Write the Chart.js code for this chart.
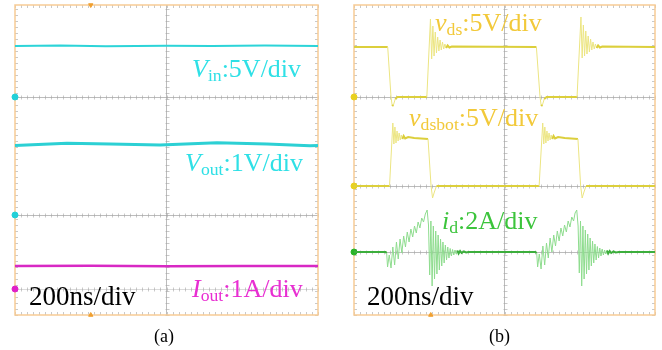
<!DOCTYPE html>
<html>
<head>
<meta charset="utf-8">
<script src="https://cdn.jsdelivr.net/npm/chart.js@4/dist/chart.umd.min.js"></script>
<style>
  body { margin: 0; background: #fff; width: 662px; height: 350px; position: relative; overflow: hidden;
         font-family: "Liberation Serif", "Times New Roman", serif; }
  canvas { position: absolute; top: 0; }
  #ca { left: 0; }
  #cb { left: 331px; }
  .lbl { position: absolute; line-height: 1; white-space: nowrap; }
  .lbl sub { font-size: 0.68em; vertical-align: -0.24em; line-height: 0; }
</style>
</head>
<body>
<canvas id="ca" width="331" height="320"></canvas>
<canvas id="cb" width="331" height="320"></canvas>

<div class="lbl" style="left:192px;top:56px;font-size:26px;color:#2fe0e6"><i>V</i><sub>in</sub>:5V/div</div>
<div class="lbl" style="left:185px;top:150px;font-size:26px;color:#2fe0e6"><i>V</i><sub>out</sub>:1V/div</div>
<div class="lbl" style="left:192px;top:276px;font-size:26px;color:#e82ed2"><i>I</i><sub>out</sub>:1A/div</div>
<div class="lbl" style="left:29px;top:283px;font-size:27px;color:#000">200ns/div</div>
<div class="lbl" style="left:154px;top:327px;font-size:18px;color:#000">(a)</div>

<div class="lbl" style="left:435px;top:10px;font-size:26px;color:#f2c93a"><i>v</i><sub>ds</sub>:5V/div</div>
<div class="lbl" style="left:409px;top:105px;font-size:26px;color:#f2c93a"><i>v</i><sub>dsbot</sub>:5V/div</div>
<div class="lbl" style="left:442px;top:208px;font-size:26px;color:#3cc43c"><i>i</i><sub>d</sub>:2A/div</div>
<div class="lbl" style="left:367px;top:283px;font-size:27px;color:#000">200ns/div</div>
<div class="lbl" style="left:489px;top:327px;font-size:18px;color:#000">(b)</div>

<script>
// time in ns (200 ns/div, 10 div), level in tenths of the screen (0 = bottom)
const T_MIN = -1000, T_MAX = 1000;
const Y_MIN = 0, Y_MAX = 31;

// ---- panel (a)
const vinPts = [[-1000, 26.9], [-700, 26.95], [-400, 26.88], [0, 26.92], [300, 26.9], [650, 26.95], [1000, 26.9]];
const voutPts = [[-1000, 16.95], [-657, 17.17], [-373, 17.1], [-43, 17.0], [333, 17.23], [663, 17.1], [947, 16.93], [1000, 16.95]];
const ioutPts = [[-1000, 4.9], [-500, 4.92], [0, 4.88], [500, 4.9], [1000, 4.9]];
const gridA = [21.8, 10.0, 2.6];
const groundA = [[21.8, '#22d0d8'], [10.0, '#22d0d8'], [2.6, '#e020c8']];

// ---- panel (b)
const vdsPts = [
  [-1000, 26.8], [-776, 26.8], [-754, 21.8], [-746, 20.9], [-738, 21.0], [-726, 21.6], [-712, 21.8],
  [-516, 21.8], [-492, 29.6], [-484, 25.6], [-476, 28.9], [-468, 25.9], [-460, 28.3], [-452, 26.2],
  [-444, 27.8], [-436, 26.4], [-428, 27.5], [-420, 26.5], [-412, 27.3], [-404, 26.6], [-396, 27.1],
  [-388, 26.7], [-378, 26.95], [-366, 26.75], [-350, 26.85],
  [212, 26.8], [236, 21.8], [244, 20.9], [252, 21.0], [264, 21.6], [280, 21.8],
  [482, 21.8], [508, 29.8], [516, 25.7], [524, 29.0], [532, 25.9], [540, 28.4], [548, 26.1],
  [556, 27.9], [564, 26.3], [572, 27.6], [580, 26.5], [588, 27.3], [596, 26.6], [604, 27.1],
  [612, 26.7], [622, 26.95], [634, 26.75], [650, 26.85], [1000, 26.8]
];
const vdsbotPts = [
  [-1000, 12.9], [-764, 12.9], [-742, 19.2], [-735, 17.1], [-728, 18.8], [-721, 17.2], [-714, 18.4],
  [-707, 17.4], [-700, 18.2], [-693, 17.5], [-686, 18.0], [-679, 17.6], [-670, 17.9], [-660, 17.65],
  [-640, 17.8], [-600, 17.7], [-508, 17.6], [-488, 12.9], [-478, 11.7], [-466, 12.3], [-452, 12.9],
  [230, 12.9], [254, 19.2], [261, 17.1], [268, 18.8], [275, 17.2], [282, 18.4], [289, 17.4],
  [296, 18.2], [303, 17.5], [310, 18.0], [317, 17.6], [326, 17.9], [336, 17.65], [356, 17.8],
  [400, 17.7], [488, 17.6], [506, 12.9], [516, 11.7], [528, 12.3], [542, 12.9], [1000, 12.9]
];
const idPts = [
  [-1000, 6.3], [-790, 6.3], [-783, 6.2], [-777, 4.8], [-766, 6.0], [-754, 4.7], [-742, 6.8],
  [-730, 5.0], [-718, 7.3], [-706, 5.6], [-694, 7.6], [-682, 6.2], [-670, 7.9], [-658, 6.8],
  [-646, 8.3], [-634, 7.3], [-622, 8.6], [-610, 7.8], [-598, 8.9], [-586, 8.2], [-574, 9.3],
  [-562, 8.7], [-550, 9.7], [-538, 9.3], [-526, 10.1], [-514, 10.5], [-505, 9.0], [-497, 4.0],
  [-489, 9.4], [-481, 2.9], [-473, 8.9], [-465, 3.6], [-457, 8.4], [-449, 4.1], [-441, 8.0],
  [-433, 4.5], [-425, 7.6], [-417, 4.9], [-409, 7.3], [-401, 5.2], [-393, 7.0], [-385, 5.5],
  [-377, 6.8], [-369, 5.7], [-361, 6.65], [-353, 5.9], [-345, 6.55], [-337, 6.0], [-329, 6.5],
  [-321, 6.1], [-313, 6.45], [-305, 6.15], [-295, 6.4], [-285, 6.2], [-270, 6.35], [-255, 6.25],
  [-240, 6.3],
  [205, 6.3], [214, 6.2], [220, 4.8], [231, 6.1], [243, 4.6], [255, 6.9], [267, 5.0], [279, 7.2],
  [291, 5.7], [303, 7.7], [315, 6.3], [327, 8.0], [339, 6.9], [351, 8.4], [363, 7.4], [375, 8.7],
  [387, 7.9], [399, 9.0], [411, 8.3], [423, 9.4], [435, 8.8], [447, 9.8], [459, 9.4], [469, 10.2],
  [480, 10.5], [489, 8.9], [497, 4.2], [505, 9.4], [513, 2.9], [521, 8.9], [529, 3.6], [537, 8.5],
  [545, 4.1], [553, 8.1], [561, 4.5], [569, 7.7], [577, 4.9], [585, 7.4], [593, 5.2], [601, 7.1],
  [609, 5.5], [617, 6.85], [625, 5.7], [633, 6.7], [641, 5.9], [649, 6.6], [657, 6.0], [665, 6.5],
  [673, 6.1], [681, 6.45], [689, 6.15], [699, 6.4], [709, 6.2], [724, 6.35], [739, 6.25],
  [760, 6.3], [1000, 6.3]
];
const gridB = [21.8, 12.9, 6.3];
const groundB = [[21.8, '#e8d020'], [12.9, '#e8d020'], [6.3, '#28b428']];

const xy = pts => pts.map(([x, y]) => ({ x, y }));

function trace(pts, color, width) {
  return { data: xy(pts), borderColor: color, borderWidth: width, pointRadius: 0, tension: 0, clip: 2 };
}

// flat parts thick and saturated, fast edges and ringing thin and pale
function scopeTrace(pts, flat, ring) {
  const isFlat = c => Math.abs(c.p0.parsed.y - c.p1.parsed.y) < 0.3;
  return {
    data: xy(pts), pointRadius: 0, tension: 0, borderColor: flat, borderWidth: 1, clip: 2,
    segment: {
      borderColor: c => isFlat(c) ? flat : ring,
      borderWidth: c => isFlat(c) ? 2 : 1
    }
  };
}

function marker(x, y, color, style, radius, rot) {
  return {
    data: [{ x, y }], showLine: false, pointRadius: radius, pointStyle: style || 'circle',
    rotation: rot || 0, pointBackgroundColor: color, pointBorderColor: color, clip: false
  };
}

const scopeFrame = {
  id: 'scopeFrame',
  beforeDatasetsDraw(chart, args, opts) {
    const { ctx, chartArea: a, scales: { x, y } } = chart;
    ctx.save();
    ctx.strokeStyle = 'rgba(165,165,165,0.6)';
    ctx.lineWidth = 1;
    ctx.beginPath();
    const x0 = Math.round(x.getPixelForValue(0)) + 0.5;
    for (let v = Y_MIN; v <= Y_MAX; v += 0.6) {
      const py = Math.round(y.getPixelForValue(v)) + 0.5;
      ctx.moveTo(x0 - 2, py); ctx.lineTo(x0 + 2, py);
      ctx.moveTo(a.left, py); ctx.lineTo(a.left + 3, py);
      ctx.moveTo(a.right - 3, py); ctx.lineTo(a.right, py);
    }
    for (let t = T_MIN; t <= T_MAX; t += 40) {
      const px = Math.round(x.getPixelForValue(t)) + 0.5;
      opts.lines.forEach(v => {
        const py = Math.round(y.getPixelForValue(v)) + 0.5;
        ctx.moveTo(px, py - 2); ctx.lineTo(px, py + 2);
      });
      ctx.moveTo(px, a.top); ctx.lineTo(px, a.top + 3);
      ctx.moveTo(px, a.bottom - 3); ctx.lineTo(px, a.bottom);
    }
    ctx.stroke();
    ctx.strokeStyle = '#f7cb95';
    ctx.lineWidth = 1.5;
    ctx.strokeRect(a.left, a.top, a.right - a.left, a.bottom - a.top);
    ctx.restore();
  }
};

function scopeChart(id, datasets, lines, dotted, pad) {
  return new Chart(document.getElementById(id), {
    type: 'line',
    data: { datasets },
    options: {
      responsive: false,
      animation: false,
      devicePixelRatio: 1,
      layout: { padding: pad },
      plugins: { legend: { display: false }, tooltip: { enabled: false }, scopeFrame: { lines } },
      scales: {
        x: {
          type: 'linear', min: T_MIN, max: T_MAX,
          border: { display: false },
          ticks: { display: false, stepSize: 200 },
          grid: { drawTicks: false, lineWidth: 1, color: c => c.tick.value === 0 ? 'rgba(160,160,160,0.7)' : 'rgba(0,0,0,0)' }
        },
        y: {
          type: 'linear', min: Y_MIN, max: Y_MAX,
          border: { display: false },
          ticks: { display: false },
          afterBuildTicks: s => { s.ticks = lines.map(v => ({ value: v })); },
          grid: { drawTicks: false, lineWidth: 1, color: c => dotted.includes(c.tick.value) ? 'rgba(175,175,175,0.45)' : 'rgba(160,160,160,0.7)' }
        }
      }
    },
    plugins: [scopeFrame]
  });
}

scopeChart('ca', [
  trace(vinPts, '#2cd4d8', 2),
  trace(voutPts, '#2cd0d4', 3),
  trace(ioutPts, '#d828c4', 2.5),
  ...groundA.map(([v, c]) => marker(T_MIN, v, c, 'circle', 3)),
  marker(-500, Y_MAX, '#f0a030', 'triangle', 2.5, 180),
  marker(-500, Y_MIN, '#f0a030', 'triangle', 2.5, 0)
], gridA, [2.6], { left: 15, right: 13, top: 5, bottom: 5 });

scopeChart('cb', [
  scopeTrace(vdsPts, '#dccf3c', '#ece582'),
  scopeTrace(vdsbotPts, '#dccf3c', '#ece582'),
  scopeTrace(idPts, '#3cae3c', '#8edc8e'),
  ...groundB.map(([v, c]) => marker(T_MIN, v, c, 'circle', 3)),
  marker(-490, Y_MIN, '#f0a030', 'triangle', 2.5, 0)
], gridB, [], { left: 23, right: 7, top: 5, bottom: 5 });
</script>
</body>
</html>
